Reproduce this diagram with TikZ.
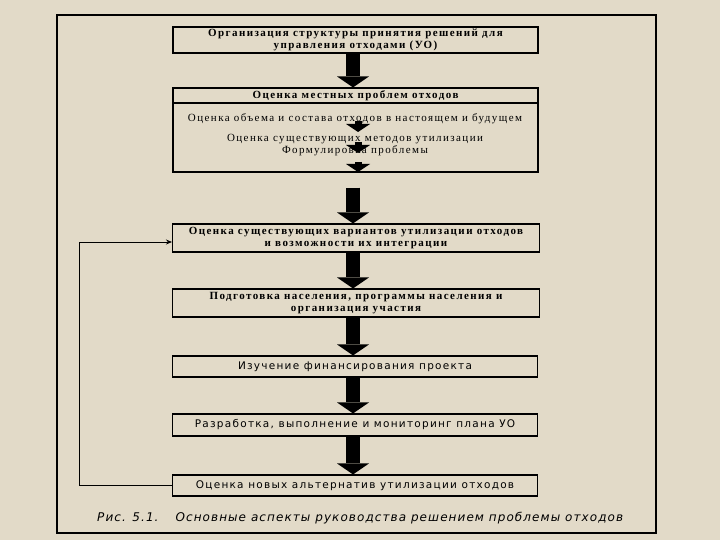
\documentclass[tikz,border=0pt]{standalone}
\usepackage{fontspec}
\setmainfont{Liberation Serif}
\newfontfamily\boxserif[LetterSpace=13]{Liberation Serif}
\newfontfamily\boxsans[LetterSpace=12]{DejaVu Sans}
\newfontfamily\capsans[LetterSpace=9]{DejaVu Sans}
\usetikzlibrary{arrows.meta}
\definecolor{bg}{RGB}{226,218,200}
\begin{document}
\begin{tikzpicture}[x=1pt,y=-1pt,
  box/.style={draw, line width=1.1pt, minimum width=365pt, inner sep=0pt, align=center},
  sbox/.style={box, font=\boxserif\fontsize{11}{12}\selectfont\bfseries},
  fbox/.style={box, font=\boxsans\fontsize{10.5}{12}\selectfont},
  inner/.style={inner sep=0pt, font=\boxserif\fontsize{11}{12}\selectfont},
  blk/.style={line width=14pt, -{Triangle[width=32pt,length=11pt,line width=0pt]}},
  smallarr/.style={line width=7pt, -{Triangle[width=24pt,length=8pt,line width=0pt]}},
  back/.style={line width=0.9pt, -{Stealth[length=6pt,width=5pt]}}]
\useasboundingbox (0,0) rectangle (720,540);
\fill[bg] (0,0) rectangle (720,540);
\draw[line width=1.2pt] (57,15) rectangle (656,533);

\node[sbox, minimum height=26pt] (b1) at (355.5,40) {Организация структуры принятия решений для\\управления отходами (УО)};
\node[box, minimum height=84pt] (b2) at (355.5,130) {};
\draw[line width=1.1pt] (b2.west |- 0,103) -- (b2.east |- 0,103);
\node[inner, font=\boxserif\fontsize{11}{12}\selectfont\bfseries] (h2) at (355.5,95.5) {Оценка местных проблем отходов};
\node[inner] (t1) at (355,119) {Оценка объема и состава отходов в настоящем и будущем};
\node[inner] (t2) at (355,139) {Оценка существующих методов утилизации};
\node[inner] (t3) at (355,150.5) {Формулировка проблемы};
\node[sbox, minimum width=367pt, minimum height=28pt] (b3) at (356,238) {Оценка существующих вариантов утилизации отходов\\и возможности их интеграции};
\node[sbox, minimum width=367pt, minimum height=28pt] (b4) at (356,303) {Подготовка населения, программы населения и\\организация участия};
\node[fbox, minimum height=21pt] (b5) at (355,366.5) {Изучение финансирования проекта};
\node[fbox, minimum height=22pt] (b6) at (355,425) {Разработка, выполнение и мониторинг плана УО};
\node[fbox, minimum height=21pt] (b7) at (355,485.5) {Оценка новых альтернатив утилизации отходов};
\node[anchor=west, inner sep=0pt, font=\capsans\itshape\fontsize{12}{14}\selectfont] (cap) at (97,518) {Рис. 5.1.\hspace{17pt}Основные аспекты руководства решением проблемы отходов};

\coordinate (s1a) at (358,121); \coordinate (s1b) at (358,132);
\coordinate (s2a) at (358,142); \coordinate (s2b) at (358,153);
\coordinate (s3a) at (358,162); \coordinate (s3b) at (358,172);
\draw[smallarr] (s1a) -- (s1b);
\draw[smallarr] (s2a) -- (s2b);
\draw[smallarr] (s3a) -- (s3b);

\draw[blk] ([xshift=-2.5pt]b1.south) -- ([xshift=-2.5pt]b2.north);
\draw[blk, shorten <=15pt] ([xshift=-2.5pt]b2.south) -- ([xshift=-3pt]b3.north);
\draw[blk] ([xshift=-3pt]b3.south) -- ([xshift=-3pt]b4.north);
\draw[blk] ([xshift=-3pt]b4.south) -- ([xshift=-2pt]b5.north);
\draw[blk] ([xshift=-2pt]b5.south) -- ([xshift=-2pt]b6.north);
\draw[blk] ([xshift=-2pt]b6.south) -- ([xshift=-2pt]b7.north);

\draw[back] (b7.west) -- ++(-93,0) |- ([yshift=-4pt]b3.west);
\end{tikzpicture}
\end{document}
